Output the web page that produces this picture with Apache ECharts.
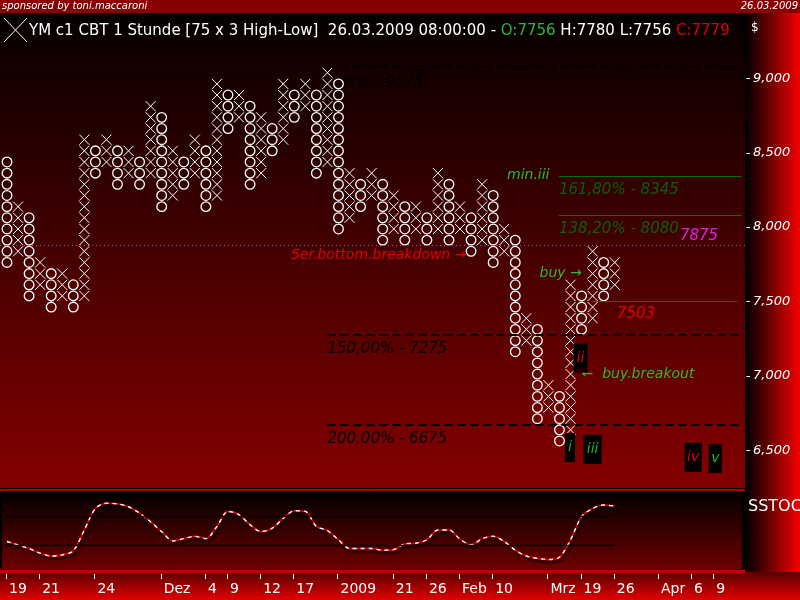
<!DOCTYPE html>
<html><head><meta charset="utf-8">
<script src="https://cdn.jsdelivr.net/npm/echarts@6/dist/echarts.min.js"></script>
<style>html,body{margin:0;padding:0;background:#000;}#c{width:800px;height:600px;}</style>
</head><body><div id="c"></div>
<script>
// ---------- DATA ----------
const BOX = 75;
const colType = ['O','X','O','X','O','X','O','X','O','X','O','X','O','X','O','X','O','X','O','X',
                 'O','X','O','X','O','X','O','X','O','X','O','X','O','X','O','X','O','X','O','X',
                 'O','X','O','X','O','X','O','X','O','X','O','X','O','X','O','X'];
const colLow  = [7725,7800,7500,7575,7425,7500,7425,7500,8325,8400,8250,8325,8250,8325,8100,8175,8250,8325,8100,8175,
                 8625,8700,8250,8325,8475,8550,8700,8775,8325,8400,7950,8025,8100,8175,7875,7950,7875,7950,7875,7950,
                 7875,7950,7800,7875,7725,7800,7125,7200,6675,6750,6525,6600,7275,7350,7500,7575];
const colHigh = [8475,8175,8100,7800,7725,7725,7650,8625,8550,8625,8550,8550,8475,8850,8775,8550,8475,8625,8550,9000,
                 8925,8925,8850,8775,8700,9000,8925,9000,8925,9075,9000,8400,8325,8400,8325,8250,8175,8175,8100,8400,
                 8325,8175,8100,8325,8250,8025,7950,7425,7350,6975,6900,7650,7575,7875,7800,7800];
const stochK = [31,25,19,11,6,8,15,51,88,97,96,91,80,65,48,32,36,40,36,57,83,77,60,48,54,71,84,83,57,50,
                34,19,19,19,16,17,27,28,34,51,51,35,25,36,40,31,16,6,2,0,4,34,74,88,94,92];
const stochLevels = [25, 75];
const priceTicks = [6500,7000,7500,8000,8500,9000];
const dateCols   = [0,3,8,14,18,20,23,26,30,35,38,41,44,49,52,55,59,62,64];
const dateLabels = ['19','21','24','Dez','4','9','12','17','2009','21','26','Feb','10','Mrz','19','26','Apr','6','9'];
const fibLevels = [9075, 8345, 8080, 7503, 7275, 6675];
const markerLevel = 7875;
const noteTexts  = ['100% - 9075','min.iii','161,80% - 8345','138,20% - 8080','7875','5er.bottom.breakdown \u2192',
                    'buy \u2192','7503','150,00% - 7275','\u2190  buy.breakout','200,00% - 6675'];
const noteCols   = [29, 45.25, 49.95, 49.95, 60.9, 25.7, 48.2, 55.2, 29, 52.0, 29];
const notePrices = [8968, 8350, 8249, 7987, 7940, 7812, 7691, 7416, 7181, 7013, 6576];
const waveLabels = ['i','ii','iii','iv','v'];
const waveCols   = [50.95, 51.9, 53.0, 62.1, 64.1];
const wavePrices = [6519, 7120, 6505, 6452, 6445];
const header = {name:'YM c1 CBT 1 Stunde [75 x 3 High-Low]', date:'26.03.2009 08:00:00', o:'O:7756', h:'H:7780', l:'L:7756', c:'C:7779'};

// ---------- STYLE ----------
const FONT = '"DejaVu Sans"';
const noteColors = ['#000','#2eb82e','#0d5e0d','#0d5e0d','#e021e0','#e00000','#2eb82e','#e00000','#000','#2eb82e','#000'];
const noteSizes  = [15,14,15,15,15,14,14,15,15,14,15];
const waveColors = ['#22b022','#e00000','#22b022','#e00000','#22b022'];
const waveBoxW   = [10,14,18,17,13];
const XMIN = -0.633, XMAX = 66.79, YMIN = 6246.6, YMAX = 9438.8, SMIN = -18.1, SMAX = 116.4;

const chart = echarts.init(document.getElementById('c'));

function renderPF(params, api) {
  const c = api.value(0), lo = api.value(1), hi = api.value(2), isX = api.value(3) === 1;
  const sz = api.size([1, BOX]);
  const w = sz[0], h = sz[1];
  const children = [];
  for (let p = lo; p < hi - 1e-6; p += BOX) {
    const pt = api.coord([c, p + BOX / 2]);
    if (isX) {
      const x0 = pt[0] - w / 2 + 0.5, x1 = pt[0] + w / 2 - 0.5, y0 = pt[1] - h / 2 + 0.5, y1 = pt[1] + h / 2 - 0.5;
      children.push({type:'line', shape:{x1:x0, y1:y0, x2:x1, y2:y1}, style:{stroke:'#fff', lineWidth:1}});
      children.push({type:'line', shape:{x1:x0, y1:y1, x2:x1, y2:y0}, style:{stroke:'#fff', lineWidth:1}});
    } else {
      children.push({type:'circle', shape:{cx:pt[0], cy:pt[1], r:Math.min(w, h) / 2 - 0.7},
        style:{fill:'none', stroke:'#fff', lineWidth:1.3}});
    }
  }
  return {type:'group', children};
}

function renderNote(params, api) {
  const i = api.value(2);
  const pt = api.coord([api.value(0), api.value(1)]);
  return {type:'text', x:pt[0], y:pt[1], style:{text:noteTexts[i], fill:noteColors[i],
    font:'italic ' + noteSizes[i] + 'px ' + FONT, textAlign:'left', textVerticalAlign:'middle', align:'left', verticalAlign:'middle'}};
}

function renderWave(params, api) {
  const i = api.value(2);
  const pt = api.coord([api.value(0), api.value(1)]);
  const w = waveBoxW[i], h = 29;
  return {type:'group', children:[
    {type:'rect', shape:{x:pt[0] - w / 2, y:pt[1] - h / 2, width:w, height:h}, style:{fill:'#000'}},
    {type:'text', x:pt[0], y:pt[1], style:{text:waveLabels[i], fill:waveColors[i], font:'italic 14px ' + FONT,
      textAlign:'center', textVerticalAlign:'middle', align:'center', verticalAlign:'middle'}}
  ]};
}

function renderYTick(params, api) {
  const pt = api.coord([api.value(0), api.value(1)]);
  return {type:'line', shape:{x1:pt[0] + 1.5, y1:Math.round(pt[1]) + 0.5, x2:pt[0] + 5, y2:Math.round(pt[1]) + 0.5},
    style:{stroke:'#fff', lineWidth:1}};
}
function renderXTick(params, api) {
  const pt = api.coord([api.value(0), api.value(1)]);
  const x = Math.round(pt[0]) - 0.5;
  return {type:'line', shape:{x1:x, y1:pt[1] + 4, x2:x, y2:pt[1] + 9}, style:{stroke:'#fff', lineWidth:1}};
}

const dashed = {color:'#000', type:[8,5], width:2};
const mlData = [
  [{coord:[29, fibLevels[0]], lineStyle:dashed}, {coord:[66.5, fibLevels[0]]}],
  [{coord:[49.95, fibLevels[1]], lineStyle:{color:'#0b6e0b', width:1, type:'solid'}}, {coord:[66.5, fibLevels[1]]}],
  [{coord:[49.95, fibLevels[2]], lineStyle:{color:'#0b6e0b', width:1, type:'solid'}}, {coord:[66.5, fibLevels[2]]}],
  [{coord:[53, fibLevels[3]], lineStyle:{color:'#e00000', width:1, type:'solid'}}, {coord:[66.1, fibLevels[3]]}],
  [{coord:[29, fibLevels[4]], lineStyle:dashed}, {coord:[66.5, fibLevels[4]]}],
  [{coord:[29, fibLevels[5]], lineStyle:dashed}, {coord:[66.5, fibLevels[5]]}],
  [{coord:[XMIN, markerLevel], lineStyle:{color:'#c63cc6', width:1, type:[1,3]}}, {coord:[XMAX, markerLevel]}]
];

const hdrSize = 15;
const option = {
  backgroundColor:'#000',
  animation:false,
  grid:[
    {left:0, top:13, width:745, height:475},
    {left:0, top:492, width:745, height:78}
  ],
  xAxis:[
    {gridIndex:0, type:'value', min:XMIN, max:XMAX, show:false},
    {gridIndex:1, type:'value', min:XMIN, max:XMAX, position:'bottom',
     axisLine:{show:false}, splitLine:{show:false}, axisTick:{show:false},
     axisLabel:{customValues:dateCols, formatter:(v)=>dateLabels[dateCols.indexOf(Math.round(v))] || '',
       color:'#fff', fontSize:14, fontFamily:FONT, align:'left', margin:12, padding:[0,0,0,2]}}
  ],
  yAxis:[
    {gridIndex:0, type:'value', position:'right', min:YMIN, max:YMAX,
     splitLine:{show:false}, axisLine:{show:false}, axisTick:{show:false},
     axisLabel:{customValues:priceTicks, color:'#fff', fontSize:13, fontStyle:'italic', fontFamily:FONT, margin:8}},
    {gridIndex:1, type:'value', min:SMIN, max:SMAX, show:false}
  ],
  series:[
    {type:'custom', name:'notes', xAxisIndex:0, yAxisIndex:0, z:1, renderItem:renderNote, silent:true, clip:false,
     data:noteTexts.map((t,i)=>[noteCols[i], notePrices[i], i]),
     markLine:{silent:true, symbol:['none','none'], label:{show:false}, animation:false, data:mlData}},
    {type:'custom', name:'pf', xAxisIndex:0, yAxisIndex:0, z:3, renderItem:renderPF, silent:true,
     encode:{x:0, y:[1,2]},
     data:colType.map((t,i)=>[i, colLow[i], colHigh[i], t === 'X' ? 1 : 0])},
    {type:'custom', name:'waves', xAxisIndex:0, yAxisIndex:0, z:4, renderItem:renderWave, silent:true,
     data:waveLabels.map((t,i)=>[waveCols[i], wavePrices[i], i])},
    {type:'custom', name:'yticks', xAxisIndex:0, yAxisIndex:0, z:5, renderItem:renderYTick, silent:true, clip:false,
     data:priceTicks.map(v=>[XMAX, v])},
    {type:'custom', name:'xticks', xAxisIndex:1, yAxisIndex:1, z:5, renderItem:renderXTick, silent:true, clip:false,
     data:dateCols.map(c=>[c, SMIN])},
    {type:'line', name:'stochD', xAxisIndex:1, yAxisIndex:1, showSymbol:false, smooth:0.3, silent:true,
     data:stochK.map((v,i)=>[i, v]),
     lineStyle:{color:'#e00000', width:1.6, shadowColor:'rgba(0,0,0,0.85)', shadowBlur:2, shadowOffsetX:2, shadowOffsetY:3},
     markLine:{silent:true, symbol:['none','none'], label:{show:false},
       lineStyle:{color:'#120000', width:1.3, type:'solid'},
       data:stochLevels.map(v=>[{coord:[-0.2, v]}, {coord:[55, v]}])}},
    {type:'line', name:'stochK', xAxisIndex:1, yAxisIndex:1, showSymbol:false, smooth:0.3, silent:true,
     data:stochK.map((v,i)=>[i, v]),
     lineStyle:{color:'#ffffff', width:1.4, type:[4,4]}}
  ],
  graphic:[
    {type:'rect', z:-10, shape:{x:0, y:0, width:800, height:13}, style:{fill:'#8a0000'}},
    {type:'rect', z:-10, shape:{x:0, y:13, width:745, height:475},
     style:{fill:new echarts.graphic.LinearGradient(0,0,0,1,[{offset:0,color:'#050000'},{offset:1,color:'#840000'}])}},
    {type:'rect', z:-10, shape:{x:745, y:13, width:55, height:559},
     style:{fill:new echarts.graphic.LinearGradient(0,0,1,0,[{offset:0,color:'#000'},{offset:1,color:'#f20000'}])}},
    {type:'rect', z:-10, shape:{x:0, y:572, width:800, height:28},
     style:{fill:new echarts.graphic.LinearGradient(0,0,0,1,[{offset:0,color:'#580000'},{offset:1,color:'#e00000'}])}},
    {type:'rect', z:-10, shape:{x:0, y:488, width:745, height:4}, style:{fill:'#b00000'}},
    {type:'line', z:-9, shape:{x1:0, y1:488.5, x2:745, y2:488.5}, style:{stroke:'#000', lineWidth:1}},
    {type:'rect', z:-10, shape:{x:0, y:569, width:745, height:4}, style:{fill:'#c00000'}},
    {type:'rect', z:-9, shape:{x:1.5, y:491.5, width:741, height:78},
     style:{stroke:'#000', lineWidth:1, fill:new echarts.graphic.LinearGradient(0,0,0,1,[{offset:0,color:'#000'},{offset:1,color:'#6e0000'}])}},
    {type:'line', z:-9, shape:{x1:745.5, y1:13, x2:745.5, y2:572}, style:{stroke:'#000', lineWidth:1}},
    {type:'text', z:100, x:2, y:6.5, style:{text:'sponsored by toni.maccaroni', fill:'#fff', font:'italic 10px ' + FONT, verticalAlign:'middle', textVerticalAlign:'middle'}},
    {type:'text', z:100, x:798, y:6.5, style:{text:'26.03.2009', fill:'#fff', font:'italic 10px ' + FONT, align:'right', textAlign:'right', verticalAlign:'middle', textVerticalAlign:'middle'}},
    {type:'line', z:100, shape:{x1:4, y1:18, x2:27, y2:42}, style:{stroke:'#fff', lineWidth:1}},
    {type:'line', z:100, shape:{x1:27, y1:18, x2:4, y2:42}, style:{stroke:'#fff', lineWidth:1}},
    {type:'text', z:100, x:29, y:31, style:{
      text:'{w|' + header.name + '  ' + header.date + ' - }{g|' + header.o + '}{w| ' + header.h + ' ' + header.l + ' }{r|' + header.c + '}',
      verticalAlign:'middle', textVerticalAlign:'middle',
      rich:{w:{fill:'#fff', color:'#fff', font:hdrSize + 'px ' + FONT, fontSize:hdrSize, fontFamily:FONT},
            g:{fill:'#2eb82e', color:'#2eb82e', font:hdrSize + 'px ' + FONT, fontSize:hdrSize, fontFamily:FONT},
            r:{fill:'#e00000', color:'#e00000', font:hdrSize + 'px ' + FONT, fontSize:hdrSize, fontFamily:FONT}}}},
    {type:'text', z:100, x:751, y:28, style:{text:'$', fill:'#fff', font:'12px ' + FONT, verticalAlign:'middle', textVerticalAlign:'middle'}},
    {type:'text', z:100, x:748, y:507, style:{text:'SSTOC', fill:'#fff', font:'16px ' + FONT, verticalAlign:'middle', textVerticalAlign:'middle'}}
  ]
};
chart.setOption(option);
</script>
</body></html>
